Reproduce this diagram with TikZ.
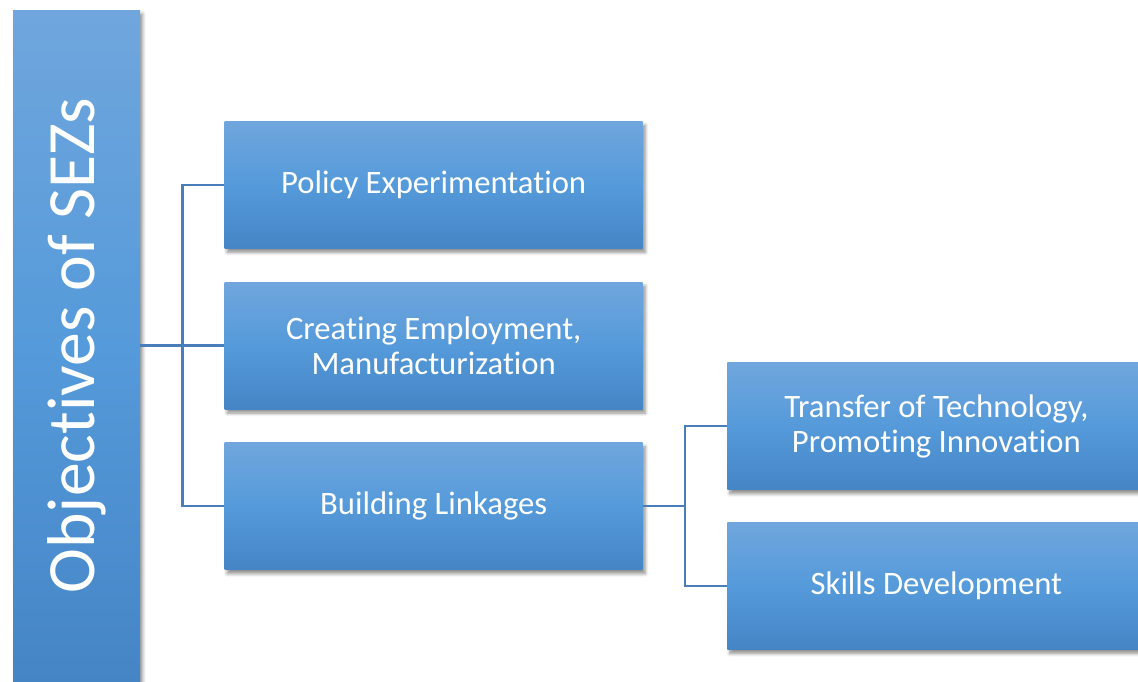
\documentclass[tikz,border=0pt]{standalone}
\usepackage{fontspec}
\setmainfont[Ligatures=NoCommon]{Carlito}
\usepackage{tikz}
\usetikzlibrary{positioning,shadows,shadows.blur}

\definecolor{boxtop}{HTML}{70A6DD}
\definecolor{boxmid}{HTML}{559ADA}
\definecolor{boxbot}{HTML}{4585C6}
\definecolor{linkblue}{HTML}{4A7EBB}

\begin{document}
\begin{tikzpicture}[
  node distance=0.66cm,
  goal/.style={rectangle, top color=boxtop, bottom color=boxbot, middle color=boxmid, text=white, minimum width=8.36cm, minimum height=2.54cm, align=center, font=\fontsize{18.6}{20}\selectfont, blur shadow={shadow xshift=0.05cm, shadow yshift=-0.08cm, shadow blur steps=6, shadow opacity=45}},
  main/.style={goal, minimum width=2.54cm, minimum height=13.42cm, font=\fontsize{38.5}{44}\selectfont},
  link/.style={draw=linkblue, line width=1.4pt}
]
\useasboundingbox (0,0) rectangle (22.76,-13.62);

% Root of the tree
\node[main] (sez) at (1.53,-6.91) {\rotatebox{90}{Objectives of SEZs}};

% First level
\node[goal, right=1.68cm of sez] (employ) {Creating Employment,\\Manufacturization};
\node[goal, above=of employ] (policy) {Policy Experimentation};
\node[goal, below=of employ] (linkage) {Building Linkages};

% Second level
\node[goal, right=1.68cm of linkage, yshift=1.6cm] (transfer) {Transfer of Technology,\\Promoting Innovation};
\node[goal, below=0.64cm of transfer] (skills) {Skills Development};

% Connectors
\draw[link] (sez.east) -- (employ.west);
\draw[link] (policy.west) -- ++(-0.84,0) |- (linkage.west);
\draw[link] (linkage.east) -- ++(0.84,0);
\draw[link] (transfer.west) -- ++(-0.84,0) |- (skills.west);

\end{tikzpicture}
\end{document}
